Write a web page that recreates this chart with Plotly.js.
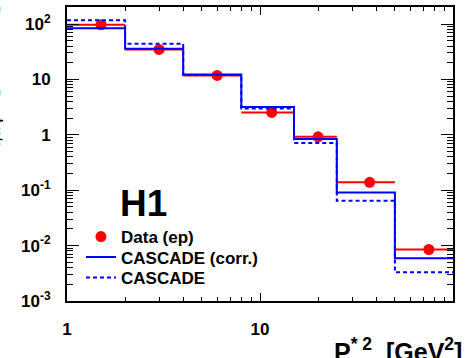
<!DOCTYPE html>
<html>
<head>
<meta charset="utf-8">
<script src="https://cdn.plot.ly/plotly-3.0.1.min.js"></script>
<style>html,body{margin:0;padding:0;background:#fff;}#chart{width:465px;height:358px;}</style>
</head>
<body>
<div id="chart"></div>
<script>
// Bin edges in P*^2 [GeV^2]
const binEdges = [1, 2, 4, 8, 15, 25, 50, 100];
// H1 data (ep)
const dataX = [1.5, 3, 6, 11.5, 20, 37, 75];
const dataY = [97, 34.7, 11.8, 2.53, 0.92, 0.139, 0.0085];
const dataYErr = [5, 2, 0.6, 0.15, 0.06, 0.012, 0.0017];
// CASCADE (corr.) and CASCADE predictions per bin
const cascadeCorr = [83.7, 35.8, 12.3, 3.16, 0.84, 0.091, 0.0059];
const cascade = [116.6, 44, 12.0, 2.98, 0.71, 0.0645, 0.0033];
// Tick labels
const yTickVals = [0.001, 0.01, 0.1, 1, 10, 100];
const yTickText = ['10<sup>-3</sup>', '10<sup>-2</sup>', '10<sup>-1</sup>', '1', '10', '10<sup>2</sup>'];
const xTickVals = [1, 10, 100];
const xTickText = ['1', '10', '10<sup>2</sup>'];

const errPlus = dataX.map((x, i) => binEdges[i + 1] - x);
const errMinus = dataX.map((x, i) => x - binEdges[i]);
const stepY = a => a.concat([a[a.length - 1]]);

const font = {family: 'Liberation Sans, Arial, Helvetica, sans-serif', color: '#000'};
const bold = Object.assign({}, font, {weight: 'bold'});

const traces = [
  {
    x: dataX, y: dataY, type: 'scatter', mode: 'markers', name: 'Data (ep)', legend: 'legend',
    marker: {color: '#ff0000', size: 11},
    error_x: {type: 'data', symmetric: false, array: errPlus, arrayminus: errMinus,
              color: '#ff0000', thickness: 2, width: 0},
    error_y: {type: 'data', array: dataYErr, color: '#ff0000', thickness: 2, width: 0}
  },
  {
    x: binEdges, y: stepY(cascadeCorr), type: 'scatter', mode: 'lines', name: 'CASCADE (corr.)', legend: 'legend2',
    line: {color: '#0000ff', width: 2, shape: 'hv'}
  },
  {
    x: binEdges, y: stepY(cascade), type: 'scatter', mode: 'lines', name: 'CASCADE', legend: 'legend3',
    line: {color: '#0000ff', width: 2, shape: 'hv', dash: '4px,3px'}
  }
];

const W = 465, H = 358, ml = 67, mr = 12, mt = 7, mb = 57;
const pw = W - ml - mr, ph = H - mt - mb;
const px = p => (p - ml) / pw;
const py = p => 1 - (p - mt) / ph;

const legendAt = yPix => ({
  x: px(81), y: py(yPix), xanchor: 'left', yanchor: 'middle',
  bgcolor: 'rgba(0,0,0,0)', borderwidth: 0,
  font: Object.assign({}, bold, {size: 17})
});

const layout = {
  width: W, height: H,
  margin: {l: ml, r: mr, t: mt, b: mb, pad: 0},
  paper_bgcolor: '#fff', plot_bgcolor: '#fff',
  showlegend: true,
  legend: legendAt(237),
  legend2: legendAt(257.5),
  legend3: legendAt(278),
  xaxis: {
    type: 'log', range: [0, 2],
    showgrid: false, zeroline: false,
    showline: true, linecolor: '#000', linewidth: 2, mirror: 'ticks',
    ticks: 'inside', ticklen: 8, tickwidth: 1, tickcolor: '#000',
    tickvals: xTickVals, ticktext: xTickText,
    tickfont: Object.assign({}, bold, {size: 17}),
    ticklabelstandoff: 12,
    minor: {ticks: 'inside', ticklen: 4, tickwidth: 1, tickcolor: '#000', dtick: 'D1', showgrid: false}
  },
  yaxis: {
    type: 'log', range: [-3, 2.307],
    showgrid: false, zeroline: false,
    showline: true, linecolor: '#000', linewidth: 2, mirror: 'ticks',
    ticks: 'inside', ticklen: 12, tickwidth: 1, tickcolor: '#000',
    tickvals: yTickVals, ticktext: yTickText,
    tickfont: Object.assign({}, bold, {size: 17}),
    ticklabelstandoff: 11,
    minor: {ticks: 'inside', ticklen: 6, tickwidth: 1, tickcolor: '#000', dtick: 'D1', showgrid: false}
  },
  annotations: [
    {
      text: 'H1', xref: 'paper', yref: 'paper', x: px(118), y: py(181),
      xanchor: 'left', yanchor: 'top', showarrow: false,
      font: Object.assign({}, bold, {size: 37})
    },
    {
      text: 'P<sup>* 2</sup>  [GeV<sup>2</sup>]', xref: 'paper', yref: 'paper',
      x: px(464), y: py(332), xanchor: 'right', yanchor: 'top', showarrow: false,
      font: Object.assign({}, bold, {size: 25})
    },
    {
      text: 'dσ/dP<sub>T,J/ψ</sub><sup>*2</sup> [nb/GeV<sup>2</sup>]', xref: 'paper', yref: 'paper',
      x: px(5), y: py(4), xanchor: 'right', yanchor: 'top', showarrow: false, textangle: -90,
      font: Object.assign({}, bold, {size: 20})
    }
  ]
};

Plotly.newPlot('chart', traces, layout, {displayModeBar: false, staticPlot: true});
</script>
</body>
</html>
